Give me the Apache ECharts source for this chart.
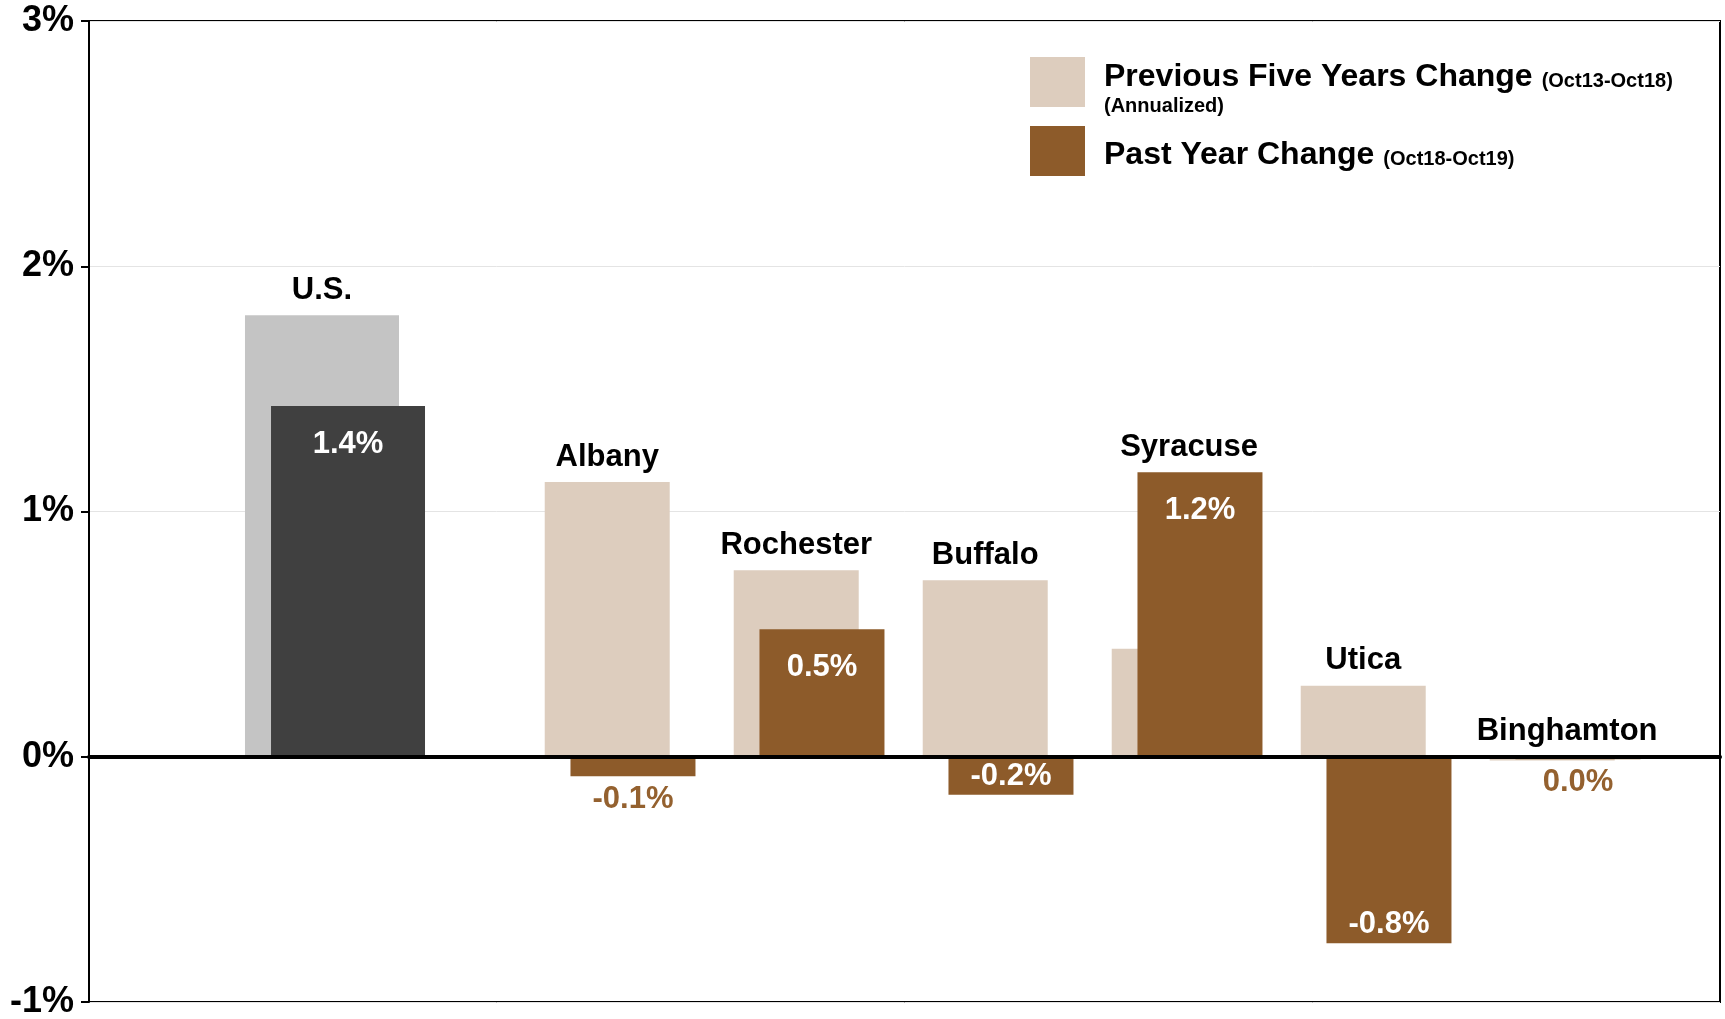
<!DOCTYPE html>
<html><head><meta charset="utf-8">
<script src="https://cdn.jsdelivr.net/npm/echarts@6/dist/echarts.min.js"></script>
<style>html,body{margin:0;padding:0;background:#fff}#c{width:1725px;height:1019px}</style>
</head><body><div id="c"></div>
<script>
// ---- data ----
const categories = ['U.S.', 'Albany', 'Rochester', 'Buffalo', 'Syracuse', 'Utica', 'Binghamton'];
const prevFiveYears = [1.80, 1.12, 0.76, 0.72, 0.44, 0.29, -0.015];
const pastYear = [1.43, -0.08, 0.52, -0.155, 1.16, -0.76, -0.01];
const yTicks = [-1, 0, 1, 2, 3];
const legendNames = ['Previous Five Years Change', 'Past Year Change'];
const legendPeriods = ['(Oct13-Oct18)', '(Oct18-Oct19)'];
const legendNote = '(Annualized)';

// ---- style ----
const FONT = '"Liberation Sans", Arial, sans-serif';
const C_US_PREV = '#C4C4C4', C_US_PAST = '#404040';
const C_PREV = '#DDCDBE', C_PAST = '#8D5B2A', C_LABEL_BROWN = '#94612F';
const TOP = 21, BOTTOM = 17;
const US_W = 154, US_GAP = -0.831;
const M_W = 125, M_GAP = -0.794;

function fmt(v) { return (Math.round(v * 10) / 10).toFixed(1) + '%'; }
function valueLabel(v) {
  const base = { show: true, formatter: fmt(v), fontFamily: FONT, fontWeight: 'bold', fontSize: 31 };
  if (v > 0) return Object.assign(base, { position: 'insideTop', distance: 23, color: '#fff' });
  if (v <= -0.12) return Object.assign(base, { position: 'insideBottom', distance: 3, color: '#fff' });
  return Object.assign(base, { position: 'bottom', distance: 8, color: C_LABEL_BROWN });
}
function items(arr, withLabel) {
  return arr.map(v => withLabel ? { value: v, label: valueLabel(v) } : { value: v });
}
function catLabelData(start, end) {
  const out = [];
  for (let i = start; i < end; i++) {
    out.push([i - start, Math.max(prevFiveYears[i], pastYear[i], 0), pastYear[i] >= prevFiveYears[i] ? 1 : 0]);
  }
  return out;
}
function catLabelRender(names, w, gap) {
  return function (params, api) {
    const i = api.value(0), v = api.value(1), pair = api.value(2);
    const pt = api.coord([i, v]);
    const total = w + w * (1 + gap);
    const x = pair ? pt[0] + 2 : pt[0] - total / 2 + w / 2;
    return {
      type: 'text', x: x, y: pt[1] - 25,
      style: { text: names[params.dataIndex], fill: '#000', font: 'bold 31px ' + FONT, align: 'center', verticalAlign: 'middle' }
    };
  };
}

const usNames = categories.slice(0, 1);
const metroNames = categories.slice(1);

const hiddenY = { type: 'value', min: yTicks[0], max: yTicks[yTicks.length - 1], interval: 1, show: false };

const option = {
  animation: false,
  backgroundColor: '#fff',
  grid: [
    { left: 89, right: 5, top: TOP, bottom: BOTTOM, show: true, borderColor: '#000', borderWidth: 2, backgroundColor: 'transparent', outerBoundsMode: 'none' },
    { left: 235, width: 200, top: TOP, bottom: BOTTOM, outerBoundsMode: 'none' },
    { left: 525.6, width: 1134, top: TOP, bottom: BOTTOM, outerBoundsMode: 'none' }
  ],
  xAxis: [
    { gridIndex: 0, type: 'category', data: [''], z: 10,
      axisLine: { show: true, onZero: true, lineStyle: { color: '#000', width: 4 } },
      axisTick: { show: false }, axisLabel: { show: false }, splitLine: { show: false } },
    { gridIndex: 1, type: 'category', data: usNames, show: false },
    { gridIndex: 2, type: 'category', data: metroNames, show: false }
  ],
  yAxis: [
    { gridIndex: 0, type: 'value', min: yTicks[0], max: yTicks[yTicks.length - 1], interval: 1,
      axisLine: { show: true, onZero: false, lineStyle: { color: '#000', width: 2 } },
      axisTick: { show: true, inside: false, length: 8, lineStyle: { color: '#000', width: 2 } },
      splitLine: { show: true, lineStyle: { color: '#e4e4e4', width: 1 } },
      axisLabel: { show: true, showMinLabel: true, showMaxLabel: true, margin: 15, color: '#000',
        fontFamily: FONT, fontWeight: 'bold', fontSize: 36, formatter: v => v + '%' } },
    Object.assign({ gridIndex: 1 }, hiddenY),
    Object.assign({ gridIndex: 2 }, hiddenY)
  ],
  legend: {
    orient: 'vertical', left: 1030, top: 53, padding: 0, itemWidth: 55, itemHeight: 50, itemGap: 10,
    icon: 'rect', selectedMode: false, data: legendNames,
    formatter: function (name) {
      const k = legendNames.indexOf(name);
      let s = '{b|' + name + '}{s|' + legendPeriods[k] + '}';
      if (k === 0) s += '\n{a|' + legendNote + '}';
      return s;
    },
    textStyle: {
      color: '#000', fontFamily: FONT, fontWeight: 'bold',
      rich: {
        b: { fontFamily: FONT, fontWeight: 'bold', fontSize: 32, lineHeight: 42, padding: [8, 0, 0, 14], color: '#000' },
        s: { fontFamily: FONT, fontWeight: 'bold', fontSize: 20, lineHeight: 42, padding: [16, 0, 0, 9], color: '#000' },
        a: { fontFamily: FONT, fontWeight: 'bold', fontSize: 20, lineHeight: 18, padding: [6, 0, 0, 14], color: '#000' }
      }
    }
  },
  series: [
    { name: 'U.S. ' + legendNames[0], type: 'bar', xAxisIndex: 1, yAxisIndex: 1, barWidth: US_W, barGap: (US_GAP * 100) + '%',
      itemStyle: { color: C_US_PREV }, data: items(prevFiveYears.slice(0, 1), false) },
    { name: 'U.S. ' + legendNames[1], type: 'bar', xAxisIndex: 1, yAxisIndex: 1, barWidth: US_W, barGap: (US_GAP * 100) + '%',
      itemStyle: { color: C_US_PAST }, data: items(pastYear.slice(0, 1), true) },
    { name: legendNames[0], type: 'bar', xAxisIndex: 2, yAxisIndex: 2, barWidth: M_W, barGap: (M_GAP * 100) + '%',
      itemStyle: { color: C_PREV }, data: items(prevFiveYears.slice(1), false) },
    { name: legendNames[1], type: 'bar', xAxisIndex: 2, yAxisIndex: 2, barWidth: M_W, barGap: (M_GAP * 100) + '%',
      itemStyle: { color: C_PAST }, data: items(pastYear.slice(1), true) },
    { type: 'custom', xAxisIndex: 1, yAxisIndex: 1, z: 20, silent: true,
      renderItem: catLabelRender(usNames, US_W, US_GAP), data: catLabelData(0, 1) },
    { type: 'custom', xAxisIndex: 2, yAxisIndex: 2, z: 20, silent: true,
      renderItem: catLabelRender(metroNames, M_W, M_GAP), data: catLabelData(1, categories.length) }
  ]
};

const chart = echarts.init(document.getElementById('c'), null, { renderer: 'canvas' });
chart.setOption(option);
</script>
</body></html>
